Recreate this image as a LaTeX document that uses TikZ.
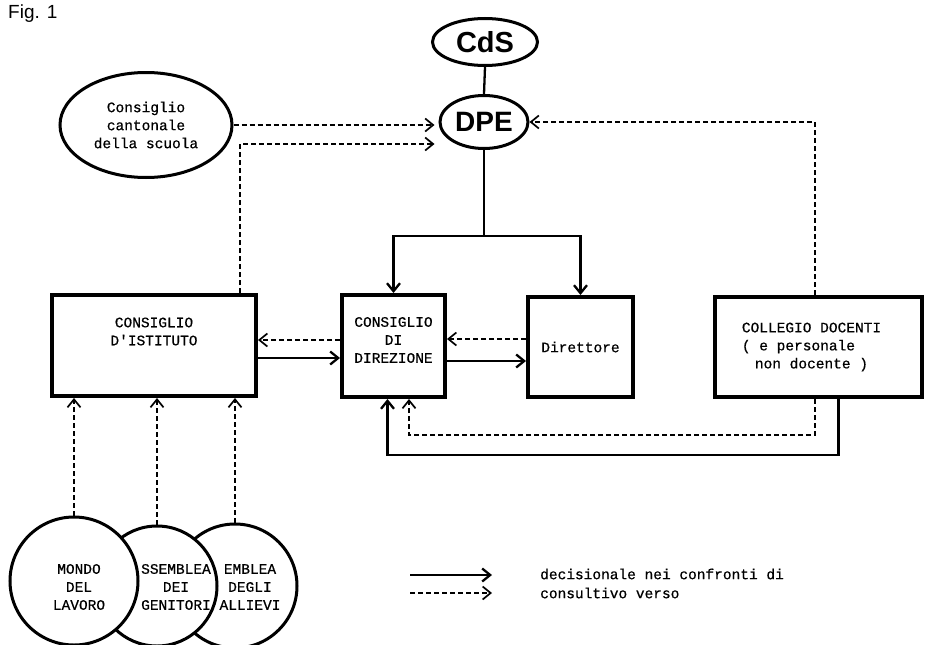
\documentclass[tikz,border=0pt]{standalone}
\usepackage{fontspec}
\setmainfont{Liberation Sans}
\newfontfamily\typew[FakeBold=0.6]{Liberation Mono}
\usepackage{tikz}
\usetikzlibrary{arrows.meta,shapes.geometric}

\begin{document}
\begin{tikzpicture}[x=1pt,y=-1pt,>={Straight Barb[length=8pt,width=13pt]},
    dec/.style={->,line width=2.3pt},
    cons/.style={->,line width=1.7pt,dash pattern=on 5pt off 3pt},
    box/.style={draw,line width=4pt,inner sep=0pt},
    ovale/.style={draw,ellipse,line width=3pt,inner sep=0pt},
    cerchio/.style={draw,circle,line width=3pt,fill=white,inner sep=0pt},
    txt/.style={font=\typew\fontsize{14.5}{18}\selectfont,align=center,inner sep=0pt}]
    \useasboundingbox (0,0) rectangle (929,645);
    % titolo
    \node[anchor=north west,inner sep=0pt,font=\fontsize{19}{22}\selectfont] (fig) at (8,5) {Fig. 1};
    % ellissi in alto
    \node[ovale,minimum width=105pt,minimum height=47pt,font=\bfseries\fontsize{29}{30}\selectfont] (cds) at (485,42) {CdS};
    \node[ovale,minimum width=88pt,minimum height=53pt,font=\bfseries\fontsize{28}{30}\selectfont] (dpe) at (484,122) {DPE};
    \node[ovale,txt,minimum width=172pt,minimum height=105pt] (ccs) at (146,125) {Consiglio\\cantonale\\della scuola};
    \draw[line width=2.3pt] (cds.south) -- (dpe.north);
    % riquadri
    \node[box,minimum width=204pt,minimum height=101pt,
        label={[txt,name=cil,yshift=14pt]center:CONSIGLIO\\D\textquotesingle ISTITUTO}] (ci) at (154,345.5) {};
    \node[box,minimum width=103pt,minimum height=102pt,
        label={[txt,name=cdl,yshift=6pt]center:CONSIGLIO\\DI\\DIREZIONE}] (cd) at (393.5,346) {};
    \node[box,txt,minimum width=105pt,minimum height=100pt] (dir) at (580.5,347) {Direttore};
    \node[box,minimum width=207pt,minimum height=100pt,
        label={[txt,align=left,name=cdocl,xshift=-7pt]center:COLLEGIO DOCENTI\\( e personale\\\hspace{13pt}non docente )}] (cdoc) at (818.5,347) {};
    % cerchi in basso
    \node[cerchio,minimum size=124pt] (allievi) at (235,586) {};
    \node[txt] (allievit) at (250,587) {EMBLEA\\DEGLI\\ALLIEVI};
    \node[cerchio,minimum size=120pt] (genitori) at (157,586) {};
    \node[txt] (genitorit) at (176,587) {SSEMBLEA\\DEI\\GENITORI};
    \node[cerchio,minimum size=128pt] (mondo) at (74,581) {};
    \node[txt] (mondot) at (79,587) {MONDO\\DEL\\LAVORO};
    % decisionale
    \coordinate (split) at (484,236);
    \draw[dec] (dpe.south) -- (split) -| (cd.north);
    \draw[dec] (split) -| (dir.north);
    \draw[dec] ([yshift=-12.5pt]ci.east) -- ([yshift=-12.5pt]ci.east -| cd.west);
    \draw[dec] ([yshift=-15pt]cd.east) -- ([yshift=-15pt]cd.east -| dir.west);
    \draw[dec] ([xshift=20pt]cdoc.south) -- ++(0,56) -| ([xshift=-6pt]cd.south);
    % consultivo
    \draw[cons] (ccs.east) -- ([xshift=-4pt]ccs.east -| dpe.west);
    \draw[cons] ([xshift=-18pt]ci.north east) |- ([xshift=-4pt,yshift=-22pt]dpe.west);
    \draw[cons] ([xshift=-3.5pt]cdoc.north) |- (dpe.east);
    \draw[cons] ([yshift=6pt]cd.west) -- ([yshift=6pt]cd.west -| ci.east);
    \draw[cons] ([yshift=8pt]dir.west) -- ([yshift=8pt]dir.west -| cd.east);
    \draw[cons] ([xshift=-3.5pt]cdoc.south) -- ++(0,36) -| ([xshift=15.5pt]cd.south);
    \foreach \c in {mondo,genitori,allievi}
        \draw[cons] (\c.north) -- (\c.north |- ci.south);
    % legenda
    \coordinate (ldA) at (410,575);
    \coordinate (ldB) at (492,575);
    \coordinate (lcA) at (410,593);
    \coordinate (lcB) at (492,593);
    \draw[dec] (ldA) -- (ldB);
    \draw[cons] (lcA) -- (lcB);
    \node[txt,anchor=west] (ldt) at (540,574) {decisionale nei confronti di};
    \node[txt,anchor=west] (lct) at (540,593) {consultivo verso};
\end{tikzpicture}
\end{document}
